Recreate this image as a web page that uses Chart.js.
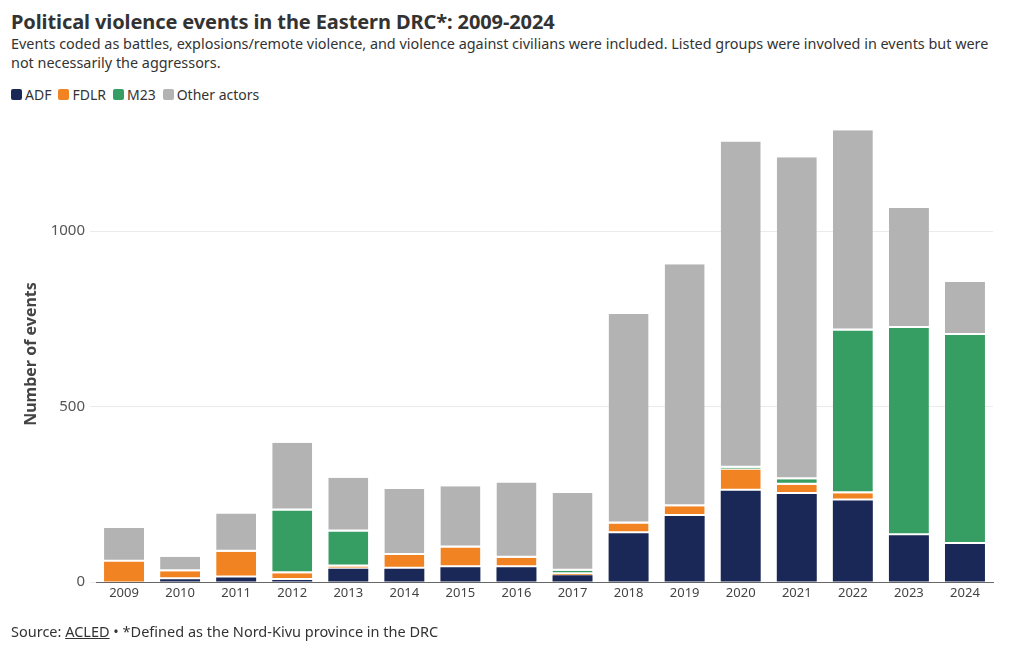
<!DOCTYPE html>
<html>
<head>
<meta charset="utf-8">
<script src="https://cdn.jsdelivr.net/npm/chart.js@4"></script>
<style>
body{margin:0;background:#fff;font-family:"Noto Sans",sans-serif;color:#333;}
#wrap{position:relative;width:1020px;height:650px;overflow:hidden;}
#title{position:absolute;left:11px;top:8px;font-size:20px;font-weight:700;color:#333;letter-spacing:-0.1px;}
#sub{position:absolute;left:11px;top:34px;width:1000px;font-size:14.4px;line-height:19px;color:#333;}
#legend{position:absolute;left:11px;top:85px;font-size:14px;color:#333;display:flex;gap:7px;}
#legend span{display:flex;align-items:center;}
#legend i{display:inline-block;width:11px;height:11px;border-radius:2px;margin-right:3px;}
#foot{position:absolute;left:11px;top:621px;font-size:14.5px;color:#333;}
#foot u{text-decoration:underline;}
canvas{position:absolute;left:0;top:0;}
</style>
</head>
<body>
<div id="wrap">
<div id="title">Political violence events in the Eastern DRC*: 2009-2024</div>
<div id="sub">Events coded as battles, explosions/remote violence, and violence against civilians were included. Listed groups were involved in events but were not necessarily the aggressors.</div>
<div id="legend"></div>
<canvas id="chart" width="1020" height="650"></canvas>
<div id="foot">Source: <u>ACLED</u> • *Defined as the Nord-Kivu province in the DRC</div>
</div>
<script>
const years = ["2009","2010","2011","2012","2013","2014","2015","2016","2017","2018","2019","2020","2021","2022","2023","2024"];
const adf   = [0, 8, 13, 6, 38, 38, 42, 42, 19, 139, 188, 260, 251, 232, 133, 108];
const fdlr  = [58, 23, 73, 19, 6, 39, 56, 27, 4, 28, 28, 61, 26, 21, 0, 0];
const m23   = [0, 0, 0, 179, 100, 0, 0, 0, 9, 0, 0, 5, 16, 464, 591, 596];
const other = [96, 41, 109, 193, 153, 188, 175, 215, 222, 597, 690, 930, 918, 571, 342, 151];
const yTicks = [0, 500, 1000];

const seriesNames = ["ADF", "FDLR", "M23", "Other actors"];
const seriesColors = ["#1a2857", "#f28322", "#369e62", "#b3b3b3"];
const seriesData = [adf, fdlr, m23, other];

const legend = document.getElementById("legend");
seriesNames.forEach((n, i) => {
  const s = document.createElement("span");
  s.innerHTML = `<i style="background:${seriesColors[i]}"></i>${n}`;
  legend.appendChild(s);
});

// white gap under a segment only when something is stacked below it
function gapBelow(ctx){
  let below = 0;
  for (let d = 0; d < ctx.datasetIndex; d++) below += seriesData[d][ctx.dataIndex];
  return {top: 0, right: 0, left: 0, bottom: below > 0 ? 2 : 0};
}

new Chart(document.getElementById("chart"), {
  type: "bar",
  data: {
    labels: years,
    datasets: seriesNames.map((n, i) => ({
      label: n,
      data: seriesData[i],
      backgroundColor: seriesColors[i],
      borderColor: "#fff",
      borderWidth: gapBelow,
      borderSkipped: false,
      barPercentage: 0.713,
      categoryPercentage: 1
    }))
  },
  options: {
    responsive: false,
    animation: false,
    layout: {padding: {left: 0, right: 27, top: 126, bottom: 0}},
    plugins: {legend: {display: false}, tooltip: {enabled: false}},
    scales: {
      x: {
        stacked: true,
        grid: {display: false, drawTicks: false},
        border: {display: true, color: "#666", width: 1},
        ticks: {color: "#444", font: {family: "Noto Sans", size: 13}, padding: 3, maxRotation: 0},
        afterFit: s => { s.height = 68; }
      },
      y: {
        stacked: true,
        min: 0,
        max: 1300,
        border: {display: false},
        grid: {color: "#ebebeb", tickLength: 6, tickColor: "#ebebeb"},
        ticks: {color: "#555", font: {family: "Noto Sans", size: 15}, padding: 5, callback: v => String(v)},
        afterBuildTicks: s => { s.ticks = yTicks.map(v => ({value: v})); },
        title: {display: true, text: "Number of events", color: "#444", font: {family: "Noto Sans", size: 16, weight: "bold"}, padding: {top: 22, bottom: 0}},
        afterFit: s => { s.width = 96; }
      }
    }
  }
});
</script>
</body>
</html>
